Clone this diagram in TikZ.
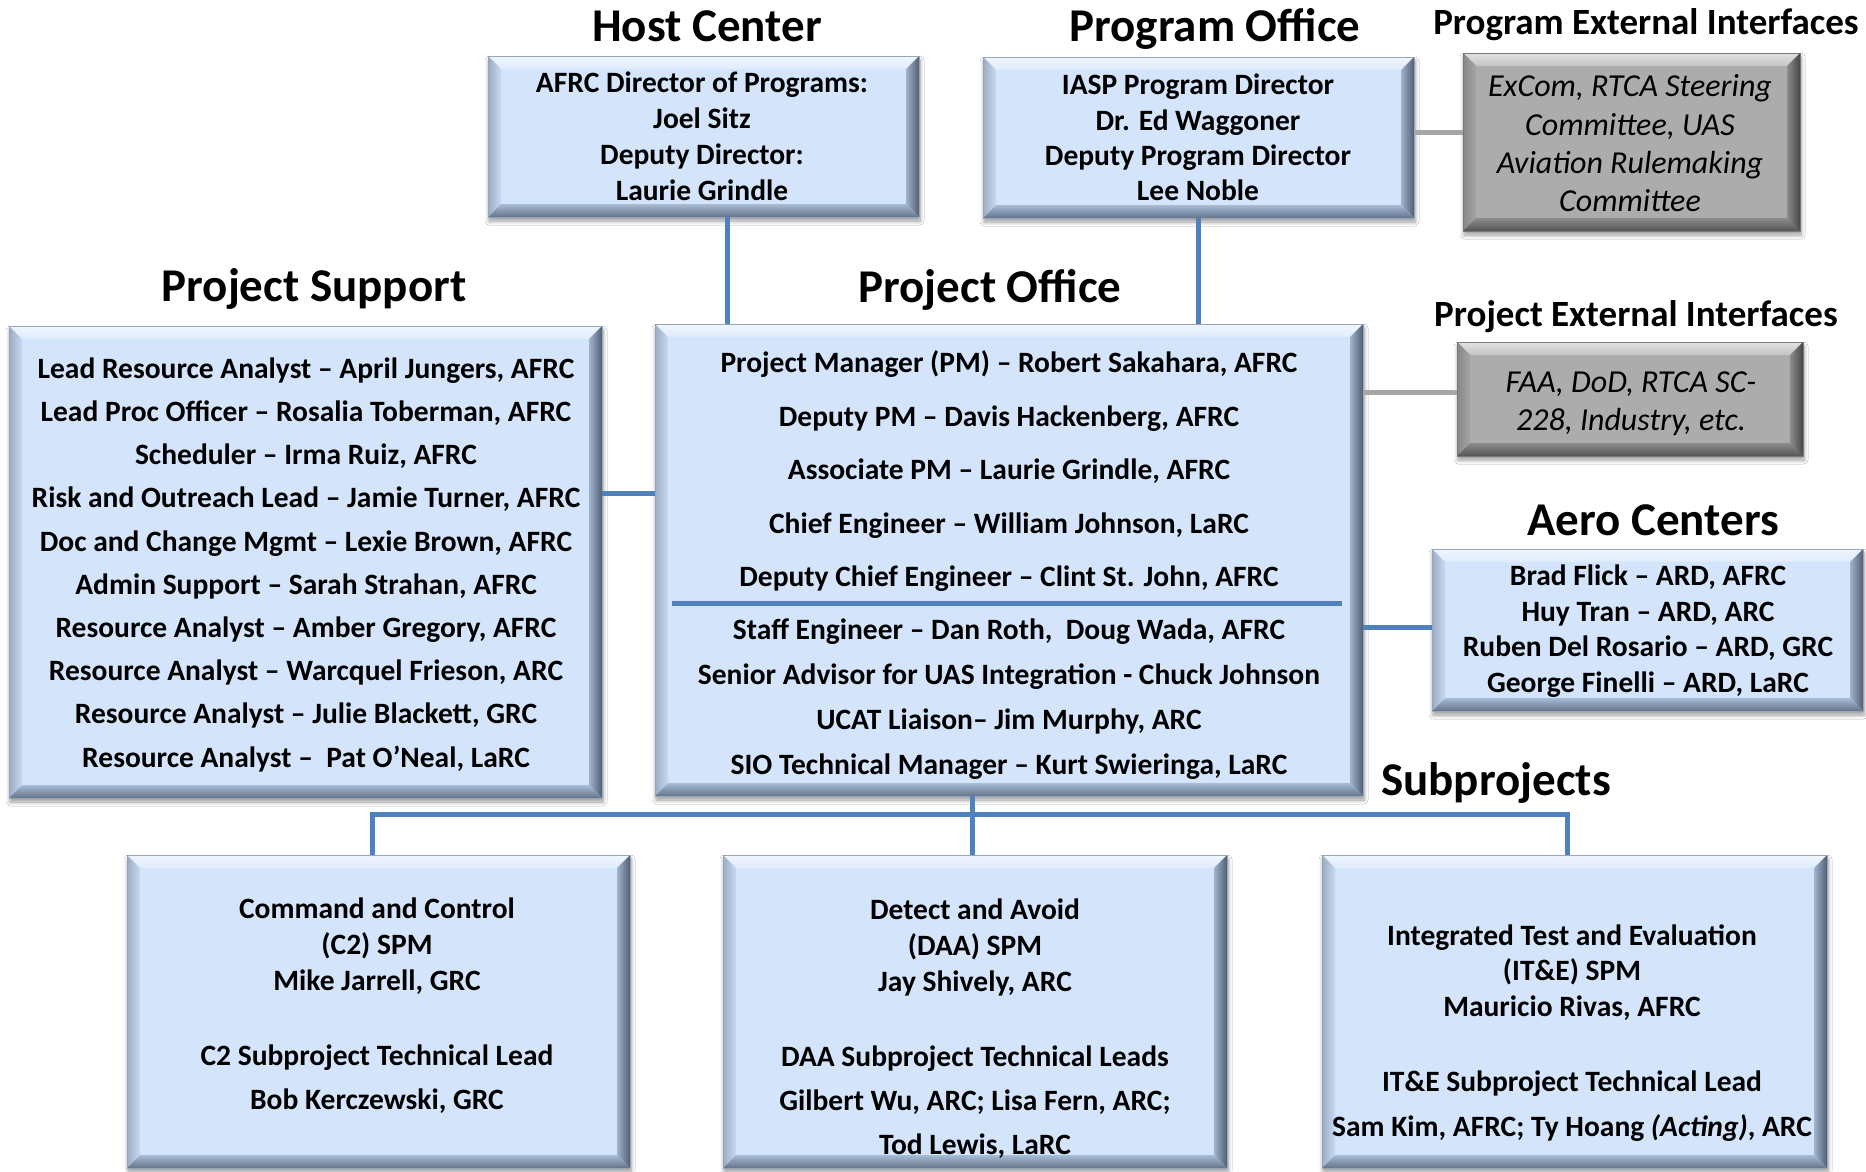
\documentclass[tikz,border=0pt]{standalone}
\usepackage{fontspec}
\setmainfont{Carlito}
\usetikzlibrary{shadows.blur}

\definecolor{bluFill}{RGB}{211,228,251}
\definecolor{bluLine}{RGB}{150,165,185}
\definecolor{bluTO}{RGB}{240,246,254}
\definecolor{bluTI}{RGB}{222,235,252}
\definecolor{bluLO}{RGB}{155,172,196}
\definecolor{bluLI}{RGB}{200,218,242}
\definecolor{bluRO}{RGB}{80,94,114}
\definecolor{bluRI}{RGB}{160,180,206}
\definecolor{bluBO}{RGB}{100,116,138}
\definecolor{bluBI}{RGB}{168,188,214}

\definecolor{gryFill}{RGB}{172,172,172}
\definecolor{gryLine}{RGB}{120,120,120}
\definecolor{gryTO}{RGB}{225,225,225}
\definecolor{gryTI}{RGB}{196,196,196}
\definecolor{gryLO}{RGB}{135,135,135}
\definecolor{gryLI}{RGB}{165,165,165}
\definecolor{gryRO}{RGB}{70,70,70}
\definecolor{gryRI}{RGB}{140,140,140}
\definecolor{gryBO}{RGB}{85,85,85}
\definecolor{gryBI}{RGB}{140,140,140}

\definecolor{connBlue}{RGB}{79,129,189}
\definecolor{connGray}{RGB}{166,166,166}

\def\bevw{13pt}

\tikzset{
  bevelbox/.style={
    fill=#1Fill, draw=#1Line, line width=0.6pt, inner sep=0pt, outer sep=0pt,
    blur shadow={shadow xshift=1pt, shadow yshift=-4pt, shadow blur steps=8,
                 shadow blur radius=4pt, shadow opacity=40},
    path picture={
      \path (path picture bounding box.south west) coordinate (bSW)
            (path picture bounding box.north east) coordinate (bNE)
            (path picture bounding box.north west) coordinate (bNW)
            (path picture bounding box.south east) coordinate (bSE);
      \path ([xshift=\bevw,yshift=-\bevw]bNW) coordinate (iNW)
            ([xshift=-\bevw,yshift=-\bevw]bNE) coordinate (iNE)
            ([xshift=\bevw,yshift=\bevw]bSW) coordinate (iSW)
            ([xshift=-\bevw,yshift=\bevw]bSE) coordinate (iSE);
      \shade[top color=#1TO, bottom color=#1TI] (bNW) -- (bNE) -- (iNE) -- (iNW) -- cycle;
      \shade[left color=#1LO, right color=#1LI] (bNW) -- (iNW) -- (iSW) -- (bSW) -- cycle;
      \shade[left color=#1RI, right color=#1RO] (bNE) -- (bSE) -- (iSE) -- (iNE) -- cycle;
      \shade[top color=#1BI, bottom color=#1BO] (bSW) -- (iSW) -- (iSE) -- (bSE) -- cycle;
    }
  },
  title/.style={anchor=base, inner sep=0pt, font=\fontsize{47}{56}\selectfont\bfseries},
  subtitle/.style={anchor=base, inner sep=0pt, font=\fontsize{37}{44}\selectfont\bfseries},
  txt/.style={anchor=base, inner sep=0pt, font=\fontsize{29.5}{36}\selectfont\bfseries},
  itxt/.style={anchor=base, inner sep=0pt, font=\fontsize{32}{39}\selectfont\itshape},
  blueline/.style={draw=connBlue, line width=5pt, line join=miter},
  grayline/.style={draw=connGray, line width=5pt},
}

\begin{document}
\begin{tikzpicture}[x=1pt, y=-1pt]
\useasboundingbox[fill=white] (0,0) rectangle (1866,1171);

% ---------- boxes ----------
\node[bevelbox=blu, minimum width=431pt, minimum height=161pt] (hc)  at (703.5,136.5) {};
\node[bevelbox=blu, minimum width=431pt, minimum height=161pt] (po)  at (1198.5,137.5) {};
\node[bevelbox=gry, minimum width=337pt, minimum height=178pt] (pe)  at (1631.5,142) {};
\node[bevelbox=blu, minimum width=593pt, minimum height=472pt] (ps)  at (305.5,562) {};
\node[bevelbox=blu, minimum width=708pt, minimum height=472pt] (pof) at (1009,560) {};
\node[bevelbox=gry, minimum width=346pt, minimum height=114pt] (pje) at (1630,399) {};
\node[bevelbox=blu, minimum width=431pt, minimum height=162pt] (ae)  at (1647.5,630) {};
\node[bevelbox=blu, minimum width=503pt, minimum height=313pt] (c2)  at (378.5,1011.5) {};
\node[bevelbox=blu, minimum width=504pt, minimum height=313pt] (daa) at (975,1011.5) {};
\node[bevelbox=blu, minimum width=505pt, minimum height=313pt] (ite) at (1574.5,1011.5) {};

% ---------- titles ----------
\node[title] (t-hc)  at (707,41) {Host Center};
\node[title] (t-po)  at (1215,41) {Program Office};
\node[subtitle] (t-pe) at (1646,34.5) {Program External Interfaces};
\node[title] (t-ps)  at (314,301) {Project Support};
\node[title] (t-pof) at (990,302) {Project Office};
\node[subtitle] (t-pje) at (1636,326) {Project External Interfaces};
\node[title] (t-ae)  at (1653,535) {Aero Centers};
\node[title] (t-sp)  at (1496,795) {Subprojects};

% ---------- box texts ----------
\foreach \y/\t [count=\i] in {92/{AFRC Director of Programs:},128/{Joel Sitz},164/{Deputy Director:},200/{Laurie Grindle}}
  \node[txt] (hc-\i) at (702,\y) {\t};

\foreach \y/\t [count=\i] in {94/{IASP Program Director},130/{Dr. Ed Waggoner},165/{Deputy Program Director},200/{Lee Noble}}
  \node[txt] (po-\i) at (1198,\y) {\t};

\foreach \y/\t [count=\i] in {96/{ExCom, RTCA Steering},135/{Committee, UAS},173.5/{Aviation Rulemaking},211.5/{Committee}}
  \node[itxt] (pe-\i) at (1630,\y) {\t};

\foreach \y/\t [count=\i] in {
  378.3/{Lead Resource Analyst – April Jungers, AFRC},
  421.5/{Lead Proc Officer – Rosalia Toberman, AFRC},
  464.7/{Scheduler – Irma Ruiz, AFRC},
  507.9/{Risk and Outreach Lead – Jamie Turner, AFRC},
  551.1/{Doc and Change Mgmt – Lexie Brown, AFRC},
  594.3/{Admin Support – Sarah Strahan, AFRC},
  637.5/{Resource Analyst – Amber Gregory, AFRC},
  680.7/{Resource Analyst – Warcquel Frieson, ARC},
  723.9/{Resource Analyst – Julie Blackett, GRC},
  767.1/{Resource Analyst –\ \ Pat O’Neal, LaRC}}
  \node[txt] (ps-\i) at (306,\y) {\t};

\foreach \y/\t [count=\i] in {
  372.5/{Project Manager (PM) – Robert Sakahara, AFRC},
  426/{Deputy PM – Davis Hackenberg, AFRC},
  479.5/{Associate PM – Laurie Grindle, AFRC},
  533/{Chief Engineer – William Johnson, LaRC},
  586.5/{Deputy Chief Engineer – Clint St. John, AFRC},
  639/{Staff Engineer – Dan Roth,\ \ Doug Wada, AFRC},
  684/{Senior Advisor for UAS Integration - Chuck Johnson},
  729.5/{UCAT Liaison– Jim Murphy, ARC},
  774.5/{SIO Technical Manager – Kurt Swieringa, LaRC}}
  \node[txt] (pof-\i) at (1009,\y) {\t};

\draw[draw=connBlue, line width=5pt] (672,603) -- (1342,603);

\foreach \y/\t [count=\i] in {392/{FAA, DoD, RTCA SC-},430/{228, Industry, etc.}}
  \node[itxt] (pje-\i) at (1631,\y) {\t};

\foreach \y/\t [count=\i] in {585.3/{Brad Flick – ARD, AFRC},621/{Huy Tran – ARD, ARC},656.7/{Ruben Del Rosario – ARD, GRC},692.4/{George Finelli – ARD, LaRC}}
  \node[txt] (ae-\i) at (1648,\y) {\t};

\foreach \y/\t [count=\i] in {918/{Command and Control},954/{(C2) SPM},990/{Mike Jarrell, GRC},1065.5/{C2 Subproject Technical Lead},1109.5/{Bob Kerczewski, GRC}}
  \node[txt] (c2-\i) at (377,\y) {\t};

\foreach \y/\t [count=\i] in {919.5/{Detect and Avoid},955.5/{(DAA) SPM},991.5/{Jay Shively, ARC},1066.5/{DAA Subproject Technical Leads},1110.5/{Gilbert Wu, ARC; Lisa Fern, ARC;},1154.5/{Tod Lewis, LaRC}}
  \node[txt] (daa-\i) at (975,\y) {\t};

\foreach \y/\t [count=\i] in {945/{Integrated Test and Evaluation},980.5/{(IT\&E) SPM},1016.5/{Mauricio Rivas, AFRC},1091.5/{IT\&E Subproject Technical Lead},1136.5/{Sam Kim, AFRC; Ty Hoang \textit{(Acting)}, ARC}}
  \node[txt] (ite-\i) at (1572,\y) {\t};

% ---------- connectors ----------
\coordinate (hcx) at (727,0);
\coordinate (psy) at (0,493);
\coordinate (pey) at (0,132);
\coordinate (pjey) at (0,392);
\coordinate (aey) at (0,627);
\coordinate (bus) at (972,814);
\coordinate (j1) at (372,814);
\coordinate (j3) at (1567,814);

\draw[blueline] (hc.south -| hcx) -- (pof.north -| hcx);
\draw[blueline] (po.south) -- (pof.north -| po.south);
\draw[blueline] (ps.east |- psy) -- (pof.west |- psy);
\draw[grayline] (po.east |- pey) -- (pe.west |- pey);
\draw[grayline] (pof.east |- pjey) -- (pje.west |- pjey);
\draw[blueline] (pof.east |- aey) -- (ae.west |- aey);
\draw[blueline] (pof.south -| bus) -- (daa.north -| bus);
\draw[blueline] (c2.north -| j1) -- (j1) -- (j3) -- (ite.north -| j3);
\end{tikzpicture}
\end{document}
